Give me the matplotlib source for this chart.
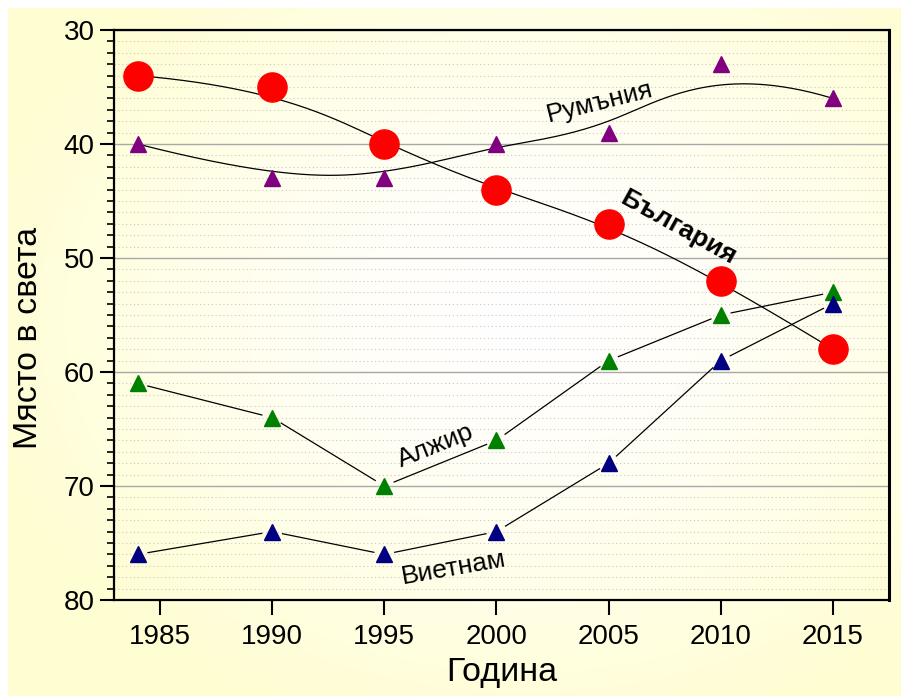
import numpy as np
import matplotlib
matplotlib.use("Agg")
import matplotlib.pyplot as plt
from matplotlib.ticker import MultipleLocator, FixedLocator
from matplotlib.collections import LineCollection

plt.rcParams['font.family'] = ['Liberation Sans', 'DejaVu Sans']

# ---- data ----
years = [1984, 1990, 1995, 2000, 2005, 2010, 2015]
bulgaria = [34, 35, 40, 44, 47, 52, 58]
romania = [40, 43, 43, 40, 39, 33, 36]
algeria = [61, 64, 70, 66, 59, 55, 53]
vietnam = [76, 74, 76, 74, 68, 59, 54]
xticks = [1985, 1990, 1995, 2000, 2005, 2010, 2015]
yticks = [30, 40, 50, 60, 70, 80]
labels = {"Румъния": (2004.6, 36.3, 14, 'normal'),
          "България": (2008.1, 47.3, -29, 'bold'),
          "Алжир": (1997.3, 66.5, 22, 'normal'),
          "Виетнам": (1998.1, 77.2, 10, 'normal')}
xlabel = "Година"
ylabel = "Място в света"


def bspline(px, py, degree=3, n=400):
    px = np.asarray(px, float); py = np.asarray(py, float)
    m = len(px)
    knots = np.concatenate([np.zeros(degree + 1), np.arange(1, m - degree),
                            np.full(degree + 1, m - degree)]).astype(float)
    t = np.linspace(0, m - degree, n)
    N = np.zeros((len(knots) - 1, n))
    for i in range(len(knots) - 1):
        N[i] = (knots[i] <= t) & (t < knots[i + 1])
    N[m - 1, -1] = 1
    for d in range(1, degree + 1):
        Nn = np.zeros((len(knots) - 1 - d, n))
        for i in range(len(knots) - 1 - d):
            a = knots[i + d] - knots[i]; b = knots[i + d + 1] - knots[i + 1]
            v = np.zeros(n)
            if a > 0:
                v += (t - knots[i]) / a * N[i]
            if b > 0:
                v += (knots[i + d + 1] - t) / b * N[i + 1]
            Nn[i] = v
        N = Nn
    return px @ N, py @ N


fig = plt.figure(figsize=(9.01, 6.96), dpi=100)
fig.patch.set_facecolor('white')

# background gradient panel
bg = fig.add_axes([8 / 901, 0, 1 - 8 / 901, 1 - 8 / 696], zorder=0)
gx, gy = np.meshgrid(np.linspace(0, 1, 300), np.linspace(0, 1, 240))
rr = np.sqrt(((gx - 0.58) / 0.62) ** 2 + ((gy - 0.45) / 0.62) ** 2)
b = np.clip(rr, 0, 1) ** 1.5
white = np.array([1.0, 1.0, 1.0]); yellow = np.array([1.0, 0.995, 0.825])
img = white[None, None, :] * (1 - b[..., None]) + yellow[None, None, :] * b[..., None]
bg.imshow(img, aspect='auto', extent=[0, 1, 0, 1], origin='upper')
bg.set_axis_off()

ax = fig.add_axes([114 / 901, 1 - 600 / 696, (889 - 114) / 901, 570 / 696], zorder=1)
ax.set_facecolor('none')
ax.set_xlim(1982.95, 2017.5)
ax.set_ylim(80, 30)

ax.xaxis.set_major_locator(FixedLocator(xticks))
ax.yaxis.set_major_locator(FixedLocator(yticks))
ax.yaxis.set_minor_locator(MultipleLocator(1))
ax.tick_params(axis='both', which='major', labelsize=20, direction='out', width=1.5, color='black')
ax.tick_params(axis='y', which='major', length=10, pad=4)
ax.tick_params(axis='x', which='major', length=11, pad=6)
ax.tick_params(axis='y', which='minor', length=5, width=1.2, direction='out')
for s in ax.spines.values():
    s.set_linewidth(1.6)
ax.spines['right'].set_linewidth(2.2)

ax.grid(True, which='minor', axis='y', linestyle=(0, (1, 2.5)), color='#C8C8C8', linewidth=0.8, zorder=0)
ax.grid(True, which='major', axis='y', linestyle='-', color='#A8A8A8', linewidth=1.0, zorder=0)
ax.set_axisbelow(True)

ax.set_xlabel(xlabel, fontsize=24.5, labelpad=5)
ax.set_ylabel(ylabel, fontsize=24.5)
ax.yaxis.set_label_coords(-0.09, 0.46)

# Bulgaria and Romania: B-spline curves
for vals in (bulgaria, romania):
    cx, cy = bspline(years, vals)
    ax.plot(cx, cy, color='black', lw=0.9, zorder=2)
ax.plot(years, bulgaria, 'o', color='#FF0000', ms=21, mec='#FF0000', zorder=4, clip_on=False)
ax.plot(years, romania, '^', color='#800080', ms=11, zorder=4)

# Algeria, Vietnam: straight segments with gaps near markers
def gapped(xv, yv, gap=10):
    pts = ax.transData.transform(np.column_stack([xv, yv]))
    segs = []
    for p0, p1 in zip(pts[:-1], pts[1:]):
        d = p1 - p0; L = np.hypot(*d); u = d / L
        segs.append(ax.transData.inverted().transform(np.array([p0 + u * gap, p1 - u * gap])))
    return segs

for vals, col in [(algeria, '#008000'), (vietnam, '#000080')]:
    ax.add_collection(LineCollection(gapped(years, vals), colors='black', linewidths=0.9, zorder=2))
    ax.plot(years, vals, '^', color=col, ms=11, zorder=4)

for txt, (x, y, rot, w) in labels.items():
    ax.text(x, y, txt, fontsize=19, fontweight=w, rotation=rot,
            rotation_mode='anchor', ha='center', va='center', zorder=5)

fig.savefig('out.png', dpi=100)
